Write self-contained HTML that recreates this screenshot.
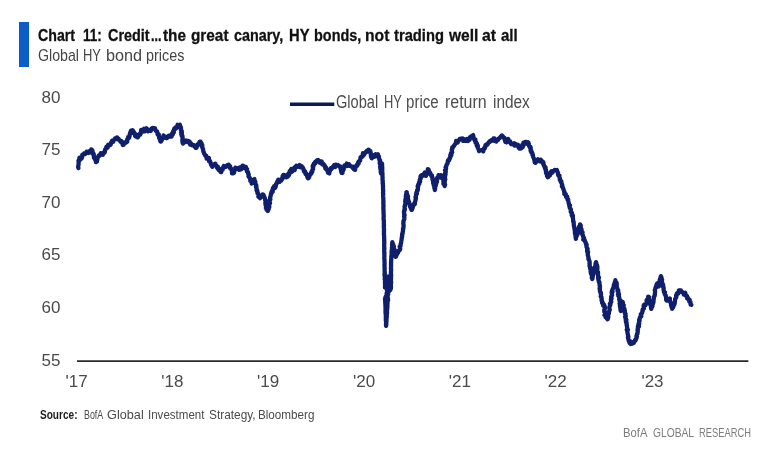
<!DOCTYPE html>
<html><head><meta charset="utf-8">
<style>
html,body{margin:0;padding:0;background:#fff;}
body{width:781px;height:463px;position:relative;overflow:hidden;font-family:"Liberation Sans",sans-serif;}
.t{position:absolute;white-space:nowrap;transform-origin:0 0;line-height:1;}
#bar{position:absolute;left:19.2px;top:21.5px;width:9.5px;height:45px;background:#0b5ec7;}
.yl{font-size:17px;color:#4a4a4a;left:41.5px;}
.xl{font-size:17px;color:#4a4a4a;top:373px;}
#wrap{position:absolute;left:0;top:0;width:781px;height:463px;filter:blur(0.45px);}
</style></head><body>
<div id="wrap">
<div id="bar"></div>
<div class="t" style="left:38.30px;top:26.7px;font-size:17px;color:#111;font-weight:bold;transform:scaleX(0.8339);-webkit-text-stroke:0.3px #111;">Chart</div>
<div class="t" style="left:82.50px;top:26.7px;font-size:17px;color:#111;font-weight:bold;transform:scaleX(0.7956);-webkit-text-stroke:0.3px #111;">11:</div>
<div class="t" style="left:108.40px;top:26.7px;font-size:17px;color:#111;font-weight:bold;transform:scaleX(0.8467);-webkit-text-stroke:0.3px #111;">Credit</div>
<div class="t" style="left:151.20px;top:26.7px;font-size:17px;color:#111;font-weight:bold;transform:scaleX(0.7327);-webkit-text-stroke:0.3px #111;">...</div>
<div class="t" style="left:162.80px;top:26.7px;font-size:17px;color:#111;font-weight:bold;transform:scaleX(0.9020);-webkit-text-stroke:0.3px #111;">the</div>
<div class="t" style="left:190.90px;top:26.7px;font-size:17px;color:#111;font-weight:bold;transform:scaleX(0.9022);-webkit-text-stroke:0.3px #111;">great</div>
<div class="t" style="left:233.60px;top:26.7px;font-size:17px;color:#111;font-weight:bold;transform:scaleX(0.8455);-webkit-text-stroke:0.3px #111;">canary,</div>
<div class="t" style="left:289.30px;top:26.7px;font-size:17px;color:#111;font-weight:bold;transform:scaleX(0.8675);-webkit-text-stroke:0.3px #111;">HY</div>
<div class="t" style="left:314.00px;top:26.7px;font-size:17px;color:#111;font-weight:bold;transform:scaleX(0.8496);-webkit-text-stroke:0.3px #111;">bonds,</div>
<div class="t" style="left:365.40px;top:26.7px;font-size:17px;color:#111;font-weight:bold;transform:scaleX(0.9230);-webkit-text-stroke:0.3px #111;">not</div>
<div class="t" style="left:394.00px;top:26.7px;font-size:17px;color:#111;font-weight:bold;transform:scaleX(0.8659);-webkit-text-stroke:0.3px #111;">trading</div>
<div class="t" style="left:449.08px;top:26.7px;font-size:17px;color:#111;font-weight:bold;transform:scaleX(0.9126);-webkit-text-stroke:0.3px #111;">well</div>
<div class="t" style="left:482.30px;top:26.7px;font-size:17px;color:#111;font-weight:bold;transform:scaleX(0.9253);-webkit-text-stroke:0.3px #111;">at</div>
<div class="t" style="left:500.80px;top:26.7px;font-size:17px;color:#111;font-weight:bold;transform:scaleX(0.8850);-webkit-text-stroke:0.3px #111;">all</div>
<div class="t" style="left:38.30px;top:47.3px;font-size:17px;color:#444;transform:scaleX(0.8345);">Global</div>
<div class="t" style="left:83.10px;top:47.3px;font-size:17px;color:#444;transform:scaleX(0.7617);">HY</div>
<div class="t" style="left:105.50px;top:47.3px;font-size:17px;color:#444;transform:scaleX(0.9544);">bond</div>
<div class="t" style="left:146.10px;top:47.3px;font-size:17px;color:#444;transform:scaleX(0.8460);">prices</div>
<div class="t yl" style="top:89.0px;">80</div>
<div class="t yl" style="top:141.3px;">75</div>
<div class="t yl" style="top:193.7px;">70</div>
<div class="t yl" style="top:246.1px;">65</div>
<div class="t yl" style="top:298.6px;">60</div>
<div class="t yl" style="top:351.9px;">55</div>
<div class="t xl" style="left:65.5px;">'17</div>
<div class="t xl" style="left:161.2px;">'18</div>
<div class="t xl" style="left:257.0px;">'19</div>
<div class="t xl" style="left:353px;">'20</div>
<div class="t xl" style="left:448.7px;">'21</div>
<div class="t xl" style="left:544.5px;">'22</div>
<div class="t xl" style="left:641.4px;">'23</div>
<div class="t" style="left:335.80px;top:93.2px;font-size:18px;color:#4c4c4c;transform:scaleX(0.8112);">Global</div>
<div class="t" style="left:383.80px;top:93.2px;font-size:18px;color:#4c4c4c;transform:scaleX(0.7154);">HY</div>
<div class="t" style="left:406.20px;top:93.2px;font-size:18px;color:#4c4c4c;transform:scaleX(0.8397);">price</div>
<div class="t" style="left:444.70px;top:93.2px;font-size:18px;color:#4c4c4c;transform:scaleX(0.8855);">return</div>
<div class="t" style="left:492.50px;top:93.2px;font-size:18px;color:#4c4c4c;transform:scaleX(0.8554);">index</div>
<div class="t" style="left:39.60px;top:407.7px;font-size:13.5px;color:#1c1c1c;font-weight:bold;transform:scaleX(0.7457);">Source:</div>
<div class="t" style="left:83.80px;top:407.7px;font-size:13.5px;color:#4a4a4a;transform:scaleX(0.6554);">BofA</div>
<div class="t" style="left:106.80px;top:407.7px;font-size:13.5px;color:#4a4a4a;transform:scaleX(0.9407);">Global</div>
<div class="t" style="left:148.30px;top:407.7px;font-size:13.5px;color:#4a4a4a;transform:scaleX(0.8544);">Investment</div>
<div class="t" style="left:209.10px;top:407.7px;font-size:13.5px;color:#4a4a4a;transform:scaleX(0.8783);">Strategy,</div>
<div class="t" style="left:257.60px;top:407.7px;font-size:13.5px;color:#4a4a4a;transform:scaleX(0.8641);">Bloomberg</div>
<div class="t" style="left:623.40px;top:426.1px;font-size:13.5px;color:#7c7c7c;transform:scaleX(0.8329);">BofA</div>
<div class="t" style="left:652.90px;top:426.1px;font-size:13.5px;color:#7c7c7c;transform:scaleX(0.7593);">GLOBAL</div>
<div class="t" style="left:698.90px;top:426.1px;font-size:13.5px;color:#7c7c7c;transform:scaleX(0.6921);">RESEARCH</div>
<svg width="781" height="463" style="position:absolute;left:0;top:0">
<line x1="77" y1="361.2" x2="748.4" y2="361.2" stroke="#2a2a2a" stroke-width="1.7"/>
<line x1="290" y1="104.3" x2="334.3" y2="104.3" stroke="#0b1a52" stroke-width="3.4"/>
<path d="M78.4,168.1 L78.1,166.9 L78.1,166.5 L78.4,165.5 L78.6,163.8 L78.6,163.6 L78.7,161.7 L78.5,160.8 L79.4,160.5 L79.2,159.6 L79.5,157.7 L80.8,158.8 L80.9,158.0 L81.1,158.7 L82.0,157.7 L82.4,154.6 L83.7,154.5 L84.1,153.4 L84.6,153.9 L85.2,154.1 L85.7,153.6 L86.6,151.7 L87.7,152.9 L88.3,153.0 L89.2,151.2 L89.5,151.2 L90.6,151.8 L91.2,149.4 L91.8,149.8 L92.5,150.7 L92.2,152.1 L92.3,153.6 L93.2,153.1 L93.3,153.3 L93.7,153.9 L93.9,156.6 L94.0,157.7 L94.5,158.2 L94.7,158.8 L95.5,160.3 L95.5,160.3 L95.8,160.2 L95.9,162.1 L96.8,161.8 L96.6,161.5 L97.4,159.4 L97.7,157.5 L97.8,157.1 L98.9,156.0 L98.8,155.4 L99.9,155.5 L100.0,155.0 L100.8,153.2 L102.0,154.3 L102.8,154.8 L103.2,152.6 L104.1,152.9 L104.9,151.7 L104.6,152.6 L105.1,149.5 L105.7,148.9 L105.9,149.1 L106.5,146.6 L107.0,146.8 L107.6,147.6 L107.9,145.6 L108.2,144.7 L108.5,144.9 L109.9,145.2 L110.7,144.6 L111.0,142.6 L112.0,141.1 L112.1,140.6 L113.3,141.6 L113.6,140.1 L114.2,140.0 L115.0,138.4 L115.9,138.2 L117.1,137.4 L117.4,138.5 L117.7,139.4 L118.6,138.7 L119.1,139.6 L120.6,141.8 L120.8,141.0 L121.5,141.6 L121.6,141.0 L122.3,142.6 L122.7,145.0 L123.6,144.7 L124.7,142.5 L124.5,143.6 L125.0,143.0 L126.6,142.3 L126.7,141.6 L127.2,141.8 L127.2,139.4 L128.0,138.3 L128.3,138.5 L128.1,137.1 L129.2,137.6 L129.3,136.9 L129.6,136.0 L129.7,134.4 L130.2,132.8 L130.3,132.5 L131.0,130.7 L132.0,130.8 L132.2,132.5 L132.8,130.3 L133.7,132.3 L133.4,133.2 L133.7,131.8 L134.1,132.5 L135.1,134.5 L135.1,135.9 L135.8,136.2 L135.9,136.5 L136.8,134.8 L137.7,137.4 L138.2,136.6 L139.0,135.5 L139.7,133.8 L140.2,133.5 L140.2,134.7 L141.2,132.2 L140.8,132.5 L141.2,129.9 L142.0,130.3 L143.1,131.5 L144.0,128.7 L144.7,131.3 L145.4,129.0 L146.2,129.3 L146.5,128.2 L148.0,131.3 L149.1,130.0 L149.9,129.9 L150.3,130.3 L150.8,130.9 L151.6,128.5 L152.6,127.9 L153.3,128.3 L153.9,128.2 L155.1,128.4 L155.3,129.9 L156.4,131.3 L157.1,131.4 L157.4,132.4 L157.7,133.2 L157.5,134.1 L157.9,134.8 L158.8,134.5 L158.8,135.8 L159.1,138.0 L159.4,137.8 L159.9,139.2 L160.0,139.0 L160.0,140.1 L160.5,141.6 L160.9,141.6 L161.5,140.3 L161.6,140.5 L162.1,138.9 L162.6,137.8 L162.9,136.9 L163.7,136.2 L163.6,135.5 L164.8,136.6 L165.0,137.8 L166.5,136.9 L166.5,138.3 L167.7,137.5 L168.4,136.0 L169.0,135.5 L170.2,135.3 L170.8,136.5 L171.6,136.5 L171.8,134.0 L171.6,134.6 L172.8,134.5 L173.1,131.8 L173.0,131.6 L173.8,132.5 L173.8,130.3 L174.4,128.5 L174.9,129.1 L175.6,127.4 L175.9,128.5 L177.0,127.3 L177.5,124.8 L178.4,126.3 L179.0,125.2 L179.9,124.8 L180.3,127.7 L180.0,126.5 L180.9,127.2 L181.0,129.3 L180.8,129.8 L181.7,130.9 L181.1,132.6 L181.9,132.2 L181.8,133.9 L181.3,133.9 L181.8,135.9 L182.4,135.7 L182.4,137.6 L182.6,137.5 L182.7,138.3 L182.3,139.9 L183.1,141.0 L182.4,141.4 L182.6,142.8 L183.0,143.6 L183.3,141.7 L184.0,140.9 L184.7,141.2 L185.3,142.1 L186.2,140.6 L186.6,141.0 L187.2,140.9 L187.9,141.0 L189.2,143.1 L189.8,141.7 L190.2,144.6 L191.3,143.6 L192.0,145.3 L193.1,144.8 L193.5,145.0 L194.7,146.6 L195.3,146.1 L195.8,147.9 L196.4,147.8 L196.8,146.7 L197.1,144.8 L198.2,144.1 L198.1,143.9 L199.3,142.6 L199.6,144.3 L199.7,141.7 L200.5,141.6 L200.7,142.0 L201.0,142.5 L201.7,143.6 L201.6,146.1 L202.3,145.2 L201.9,146.2 L202.2,146.3 L202.6,148.3 L202.8,148.5 L202.8,148.9 L203.2,149.9 L203.1,150.6 L203.6,152.1 L204.1,153.4 L204.7,154.4 L205.4,155.7 L206.2,156.3 L206.3,155.9 L206.7,158.7 L207.8,158.5 L208.2,158.5 L208.9,158.0 L209.1,161.3 L209.7,161.7 L209.9,160.8 L210.6,162.7 L211.0,164.4 L211.5,164.6 L211.7,165.7 L211.4,165.2 L212.3,166.8 L212.8,164.9 L213.9,164.2 L214.3,165.1 L215.0,164.7 L215.4,163.7 L215.4,164.4 L216.6,166.1 L216.8,165.9 L216.8,167.2 L217.5,168.2 L217.9,166.8 L218.4,169.6 L219.6,170.4 L219.5,170.4 L220.2,171.1 L220.5,171.9 L221.2,172.1 L221.2,170.9 L222.0,168.5 L222.6,169.8 L222.9,168.5 L223.8,166.0 L224.6,166.8 L225.6,167.0 L226.0,166.6 L227.0,165.6 L227.5,165.0 L228.7,164.7 L228.8,166.7 L230.0,167.7 L229.9,165.8 L230.8,168.9 L230.5,168.7 L231.6,168.8 L231.7,169.6 L232.0,170.2 L232.0,173.4 L232.8,172.9 L233.3,173.3 L234.0,172.8 L234.7,169.9 L234.4,170.1 L235.4,167.8 L235.9,168.8 L236.5,168.9 L237.3,168.1 L238.6,168.9 L239.0,169.8 L239.9,167.4 L240.0,169.6 L241.3,169.2 L241.5,168.4 L242.3,165.9 L243.1,165.7 L243.8,168.0 L244.3,166.5 L244.5,166.8 L245.9,166.8 L246.2,168.8 L247.0,169.1 L246.6,169.9 L246.9,171.4 L248.0,171.9 L248.2,174.1 L248.7,174.3 L248.6,176.0 L248.5,176.2 L249.2,177.1 L249.8,178.0 L249.5,177.7 L250.3,179.1 L250.3,181.1 L250.9,180.7 L251.7,181.0 L251.7,183.7 L252.3,183.2 L252.5,182.8 L253.0,181.7 L253.2,179.8 L254.4,179.1 L254.4,179.1 L254.3,180.0 L255.3,181.7 L254.7,181.6 L254.8,181.9 L255.1,183.2 L255.4,183.8 L256.3,185.4 L256.0,186.7 L256.4,186.8 L256.4,187.6 L256.5,187.8 L256.6,190.7 L257.3,190.5 L257.4,191.4 L257.4,193.2 L257.7,192.6 L258.2,193.8 L258.9,196.0 L258.4,196.7 L259.4,195.5 L259.5,197.5 L260.1,198.2 L260.2,196.6 L261.8,195.3 L262.3,196.1 L262.6,194.4 L262.8,196.7 L263.3,194.7 L264.3,196.8 L264.6,197.5 L265.0,199.2 L265.2,199.5 L265.1,200.1 L265.5,200.1 L265.8,201.4 L265.3,203.1 L265.4,202.9 L266.0,204.8 L265.5,204.7 L266.2,206.3 L266.0,206.9 L265.9,208.2 L266.5,208.5 L266.7,209.8 L267.8,210.9 L268.7,208.8 L268.8,208.6 L268.7,206.5 L269.3,207.0 L268.7,204.8 L269.5,204.3 L269.2,203.3 L270.0,202.8 L269.3,201.1 L269.8,200.4 L269.7,200.1 L270.4,199.4 L270.0,198.0 L270.2,198.0 L270.3,196.8 L270.9,194.8 L270.8,194.4 L271.6,193.1 L271.2,192.9 L271.8,191.3 L272.7,191.8 L272.6,189.6 L273.5,189.0 L273.0,188.0 L273.8,188.3 L274.1,186.2 L275.1,187.9 L275.7,186.6 L275.5,186.4 L276.5,183.3 L276.1,184.2 L276.9,183.2 L277.3,181.5 L277.9,181.1 L278.2,179.7 L279.3,179.9 L279.8,181.9 L281.0,180.1 L281.2,180.8 L282.2,178.2 L282.3,178.9 L282.7,175.8 L283.6,176.1 L283.5,174.8 L284.1,175.0 L284.4,176.8 L286.0,175.7 L286.0,177.4 L287.2,177.0 L287.2,174.9 L287.7,176.7 L288.8,175.4 L288.5,173.5 L289.3,174.5 L289.7,171.7 L289.7,171.1 L290.3,170.9 L291.3,168.9 L291.9,171.8 L292.1,171.6 L293.3,169.8 L293.8,168.2 L294.8,170.0 L294.6,167.4 L295.4,166.8 L295.6,167.8 L296.4,165.7 L297.5,166.7 L298.3,166.8 L298.7,166.1 L299.5,165.1 L300.5,165.7 L300.6,167.4 L301.8,166.3 L301.6,167.2 L302.6,167.3 L303.5,169.0 L304.1,171.6 L303.7,170.4 L304.6,171.9 L305.1,171.3 L305.6,174.1 L306.1,173.3 L306.8,175.3 L307.5,176.5 L307.3,177.0 L308.0,178.3 L308.7,178.0 L309.0,177.4 L309.2,177.2 L309.6,175.0 L310.6,173.9 L310.5,174.4 L311.5,173.1 L311.1,172.7 L311.8,171.9 L312.2,171.7 L311.8,171.1 L312.8,169.1 L313.1,169.0 L312.7,166.3 L312.8,165.6 L313.4,166.5 L313.5,165.5 L313.8,163.7 L314.4,164.3 L315.3,161.6 L315.3,163.4 L316.4,161.5 L316.9,160.6 L317.6,160.1 L318.2,160.2 L319.5,161.0 L319.9,162.8 L321.0,162.7 L321.6,161.5 L322.2,164.3 L323.0,163.6 L324.1,164.7 L324.6,166.4 L324.5,165.1 L325.4,166.9 L325.3,168.4 L326.3,167.8 L326.3,169.4 L327.4,169.9 L327.4,170.7 L327.7,171.7 L328.2,172.9 L329.3,173.4 L329.1,171.0 L329.7,171.5 L330.9,168.3 L331.4,169.0 L332.1,168.2 L332.3,167.8 L332.8,167.2 L334.0,165.3 L335.2,167.0 L335.7,164.7 L336.4,165.7 L337.3,165.5 L338.0,164.9 L339.5,166.4 L340.0,166.5 L340.3,166.4 L341.0,169.0 L340.5,168.4 L341.6,171.1 L341.0,170.8 L341.6,172.8 L342.0,172.6 L342.5,172.9 L342.3,171.9 L342.8,171.0 L343.7,169.2 L343.4,169.6 L344.0,167.1 L344.3,167.1 L344.5,165.3 L345.1,165.5 L346.3,166.0 L346.8,163.5 L347.1,165.7 L348.0,165.8 L349.2,164.4 L349.9,165.4 L350.3,166.1 L351.2,166.1 L352.0,166.7 L352.4,167.5 L353.2,166.7 L353.5,168.9 L354.4,169.6 L355.2,169.8 L355.1,168.1 L355.5,167.5 L356.3,165.6 L356.8,164.8 L357.4,165.5 L357.3,164.7 L357.6,164.2 L358.6,163.6 L358.2,162.2 L358.8,161.4 L358.9,161.7 L360.1,160.7 L360.2,159.5 L360.7,157.3 L360.5,157.3 L361.6,156.6 L361.4,157.4 L362.8,156.3 L362.9,153.2 L363.3,154.9 L364.1,154.7 L364.6,153.8 L365.6,152.1 L366.8,151.9 L367.0,150.7 L367.9,151.5 L368.6,149.7 L369.7,151.1 L370.4,151.2 L370.6,153.3 L370.8,153.0 L370.8,153.8 L370.9,155.9 L371.3,157.4 L371.9,157.6 L371.8,158.3 L372.8,156.3 L372.7,157.2 L373.1,156.9 L373.8,155.2 L374.7,156.7 L375.7,154.3 L375.9,154.4 L376.6,155.2 L377.9,154.2 L377.9,155.8 L378.9,156.3 L378.9,157.1 L378.5,157.4 L378.9,157.6 L379.4,159.9 L380.1,160.5 L380.0,161.4 L379.8,161.7 L379.7,163.4 L380.1,163.2 L380.1,164.2 L380.4,165.3 L380.1,166.8 L380.5,167.7 L381.0,167.8 L380.3,168.8 L380.9,169.5 L381.1,171.6 L380.6,171.7 L381.1,171.9 L381.0,173.6 L380.9,172.8 L381.1,172.0 L381.5,171.6 L381.8,169.5 L381.5,168.2 L381.3,167.9 L381.9,166.4 L381.8,165.4 L381.5,166.0 L382.0,163.8 L382.0,163.4 L382.1,164.3 L382.0,165.7 L382.1,165.8 L382.2,166.3 L382.2,168.3 L382.3,168.0 L382.2,170.0 L382.3,170.9 L382.2,171.1 L382.2,172.0 L382.4,173.0 L382.5,174.5 L382.4,175.4 L382.5,176.0 L382.5,177.3 L382.6,177.4 L382.5,179.3 L382.5,180.1 L382.6,180.1 L382.8,181.7 L382.7,182.6 L382.7,183.7 L382.9,183.6 L382.9,185.1 L383.0,186.1 L383.0,186.7 L383.0,187.9 L383.0,188.4 L383.0,189.5 L383.1,189.9 L383.2,190.6 L383.1,192.1 L383.0,192.5 L383.2,193.4 L383.1,194.6 L383.1,195.1 L383.2,196.9 L383.3,197.8 L383.3,197.8 L383.3,199.2 L383.4,200.7 L383.4,200.6 L383.4,202.7 L383.3,202.4 L383.3,203.3 L383.5,205.3 L383.5,205.9 L383.4,206.8 L383.4,207.0 L383.4,208.8 L383.5,209.1 L383.4,209.6 L383.6,210.9 L383.5,211.9 L383.6,213.7 L383.6,214.4 L383.6,214.1 L383.7,215.6 L383.7,216.4 L383.6,217.6 L383.6,219.0 L383.6,219.8 L383.7,219.5 L383.9,221.5 L383.8,221.4 L383.9,223.0 L383.8,223.4 L383.9,224.6 L384.0,225.4 L383.8,226.3 L383.9,227.8 L383.9,227.9 L384.0,228.7 L384.0,230.5 L383.9,231.3 L384.0,231.9 L383.9,233.5 L383.9,234.4 L384.0,234.4 L384.1,236.3 L384.1,236.6 L384.2,237.3 L384.1,238.0 L384.2,239.3 L384.2,240.5 L384.1,240.9 L384.3,241.5 L384.3,243.1 L384.2,243.3 L384.2,245.0 L384.2,245.0 L384.2,247.0 L384.2,246.9 L384.4,248.5 L384.2,248.6 L384.3,249.7 L384.2,250.9 L384.2,251.6 L384.4,253.4 L384.5,253.0 L384.3,253.9 L384.4,256.1 L384.4,256.6 L384.4,256.8 L384.3,257.5 L384.3,258.8 L384.5,259.7 L384.5,261.0 L384.5,261.8 L384.5,262.0 L384.6,263.3 L384.5,264.9 L384.6,265.3 L384.5,266.0 L384.6,267.3 L384.6,268.3 L384.6,269.3 L384.6,269.9 L384.6,270.6 L384.7,271.2 L384.6,271.8 L384.9,273.7 L384.4,274.4 L384.7,275.0 L384.6,276.1 L385.2,277.1 L384.9,277.3 L384.7,279.1 L385.3,279.5 L384.9,279.8 L385.1,280.8 L384.9,282.9 L385.0,282.6 L385.1,284.1 L385.1,284.9 L385.0,286.3 L385.4,286.6 L385.0,287.6 L385.4,286.1 L385.8,285.7 L386.2,284.2 L385.6,283.9 L386.2,282.8 L386.4,281.4 L387.0,281.5 L386.8,280.5 L387.5,279.3 L387.6,280.2 L388.1,277.6 L387.8,277.2 L388.3,276.6 L388.5,276.9 L388.3,278.9 L388.2,279.3 L388.5,279.9 L388.2,281.0 L388.3,282.6 L387.7,283.0 L387.5,284.1 L387.7,285.4 L387.5,286.4 L387.5,286.6 L387.3,287.6 L387.6,288.6 L387.7,288.4 L387.0,289.9 L387.1,290.8 L387.1,291.9 L386.6,293.2 L386.9,294.6 L386.7,293.7 L386.5,296.3 L386.4,295.6 L385.4,297.4 L386.2,297.0 L385.3,299.2 L385.0,298.9 L385.2,300.6 L385.3,301.1 L385.2,302.2 L385.4,303.9 L385.4,303.7 L385.4,305.3 L385.5,306.3 L385.5,307.4 L385.5,307.4 L385.5,308.8 L385.6,309.5 L385.5,310.6 L385.5,311.0 L385.5,312.3 L385.6,313.2 L385.7,314.1 L385.8,315.1 L385.8,315.2 L385.8,316.8 L385.9,318.0 L385.8,318.5 L385.8,320.3 L385.9,320.7 L386.0,320.7 L386.1,322.6 L386.1,322.9 L386.0,324.1 L386.0,325.6 L386.1,325.9 L386.2,325.3 L386.3,323.8 L386.3,323.0 L386.4,322.3 L386.4,320.9 L386.5,320.4 L386.5,320.1 L386.5,319.2 L386.6,317.8 L386.8,316.9 L386.8,316.2 L386.7,314.8 L386.9,313.8 L387.0,313.5 L387.0,311.6 L387.0,312.1 L387.0,309.8 L387.1,308.9 L387.2,309.4 L387.3,308.1 L387.3,307.6 L387.4,306.2 L387.4,305.4 L387.4,304.5 L387.5,303.6 L387.5,302.8 L387.5,301.0 L387.7,300.6 L388.1,300.1 L387.6,299.0 L388.0,298.4 L387.5,297.1 L387.7,295.8 L387.7,294.9 L388.2,294.5 L387.8,292.8 L387.4,291.9 L387.8,291.6 L388.4,292.0 L388.8,291.7 L389.3,287.9 L390.4,289.2 L390.4,289.9 L391.0,287.6 L390.9,286.6 L390.9,286.0 L390.9,284.4 L391.0,283.4 L391.1,282.6 L391.1,281.7 L390.9,280.8 L390.9,280.8 L390.9,279.9 L391.1,278.1 L391.1,278.1 L390.9,277.2 L391.1,276.2 L391.1,275.0 L391.1,273.9 L390.9,273.6 L391.0,271.8 L390.9,272.0 L391.1,270.4 L391.1,269.3 L390.9,268.8 L391.0,267.8 L391.0,267.0 L391.1,265.7 L391.0,265.1 L391.0,264.6 L391.1,263.3 L391.0,262.6 L391.1,262.4 L391.1,260.9 L391.3,259.2 L391.3,259.4 L391.3,257.9 L391.4,258.0 L391.3,256.5 L391.5,255.4 L391.6,254.4 L391.7,253.8 L391.6,253.3 L391.6,251.1 L391.8,250.9 L391.9,250.6 L391.9,248.5 L392.0,248.8 L391.9,247.6 L392.1,247.1 L392.2,246.0 L392.0,244.5 L392.3,244.0 L392.3,242.5 L392.3,242.1 L392.2,243.9 L392.9,244.0 L392.6,244.6 L393.4,245.0 L393.3,247.0 L393.9,246.3 L393.5,248.7 L394.4,249.1 L394.2,250.6 L394.5,250.6 L394.3,250.8 L395.0,251.6 L395.1,252.9 L395.3,253.8 L395.0,254.1 L395.6,256.8 L395.9,256.6 L396.4,254.7 L396.3,255.7 L396.9,254.3 L397.0,253.3 L398.3,251.1 L398.2,252.5 L398.3,250.8 L398.9,250.6 L399.6,250.2 L400.2,249.0 L399.7,246.6 L400.5,246.4 L400.6,245.0 L400.7,243.8 L401.0,243.8 L401.1,242.8 L401.1,242.7 L401.3,241.2 L401.6,239.5 L401.6,238.8 L401.8,238.6 L401.8,237.8 L401.9,236.5 L402.2,236.6 L402.1,234.3 L402.4,233.5 L402.6,233.8 L402.5,232.8 L402.8,231.8 L403.0,230.6 L403.0,228.6 L403.3,229.1 L403.3,228.0 L403.5,227.0 L403.6,225.9 L403.5,224.4 L403.3,223.7 L403.4,223.1 L403.5,221.9 L403.4,221.6 L403.6,220.8 L404.4,218.8 L404.5,218.2 L404.5,218.3 L404.1,216.2 L404.6,215.3 L404.4,215.5 L404.1,214.0 L404.3,213.7 L404.0,212.4 L404.0,210.9 L404.5,210.8 L404.9,209.0 L404.6,208.6 L404.6,207.3 L404.6,206.2 L404.8,206.5 L405.1,204.3 L405.6,203.7 L405.8,202.4 L405.8,201.4 L405.2,201.6 L405.4,200.3 L405.5,199.0 L406.4,198.3 L406.4,198.5 L405.9,196.0 L405.8,196.5 L406.1,195.3 L406.0,194.8 L406.4,193.6 L406.7,192.1 L406.4,192.2 L407.1,194.5 L407.2,194.0 L407.1,196.3 L407.2,196.5 L408.1,196.5 L407.7,198.5 L407.7,198.0 L408.3,199.9 L408.2,200.1 L408.7,201.4 L409.2,202.5 L409.4,203.8 L409.2,203.1 L409.8,205.3 L409.8,206.1 L410.4,207.1 L411.2,208.0 L410.7,207.9 L411.5,209.8 L411.8,209.6 L411.9,209.8 L412.8,207.2 L412.5,206.8 L413.3,206.1 L413.5,204.3 L413.9,204.7 L414.4,203.0 L414.9,204.1 L414.9,202.4 L415.3,201.1 L415.5,200.4 L415.8,198.8 L415.6,199.7 L415.9,197.9 L415.5,197.1 L415.9,197.1 L416.0,194.5 L416.9,193.8 L416.4,192.4 L416.7,192.9 L417.2,190.6 L417.4,190.9 L417.1,190.2 L417.9,189.7 L417.9,188.0 L417.7,186.1 L418.3,186.2 L418.2,184.9 L418.4,184.3 L419.4,183.8 L419.3,182.0 L419.1,182.4 L420.1,181.7 L419.8,179.8 L420.1,180.0 L420.8,178.1 L420.4,178.1 L420.6,176.0 L421.0,175.7 L422.3,175.0 L423.0,175.7 L423.7,175.3 L424.1,173.7 L424.8,172.5 L425.9,175.9 L426.2,174.7 L426.5,173.1 L426.9,173.4 L427.0,172.2 L427.8,171.1 L427.8,169.1 L428.6,169.6 L429.3,171.8 L429.6,172.5 L430.2,172.9 L429.8,173.9 L430.4,174.0 L430.8,174.9 L431.9,175.3 L431.6,176.4 L432.3,176.8 L432.4,177.7 L432.4,179.5 L432.9,179.1 L433.1,179.6 L433.1,182.1 L433.3,181.7 L433.1,183.1 L433.3,183.1 L433.7,184.4 L433.7,185.2 L434.2,185.7 L434.4,188.1 L434.6,188.5 L434.8,188.6 L434.8,190.1 L435.0,189.1 L435.1,188.6 L435.1,187.1 L435.6,186.0 L435.8,185.5 L435.8,183.8 L435.8,184.7 L436.3,183.2 L437.0,181.7 L436.9,180.9 L436.4,179.7 L437.0,180.3 L437.1,177.8 L437.4,177.8 L438.3,176.9 L438.5,175.1 L439.5,175.7 L440.5,177.5 L440.9,175.1 L442.0,176.0 L442.6,176.8 L443.1,178.0 L443.0,179.3 L443.4,180.1 L443.4,181.0 L443.8,182.0 L443.4,183.2 L443.5,184.0 L444.3,184.7 L444.9,185.1 L444.6,186.0 L444.6,185.2 L445.1,184.7 L444.6,183.5 L444.7,182.4 L444.6,181.9 L444.9,180.5 L444.8,179.7 L445.3,179.4 L445.0,178.1 L444.9,176.7 L445.2,175.8 L444.8,175.6 L445.0,175.2 L445.6,174.2 L445.0,173.5 L445.8,171.8 L445.0,170.3 L445.5,170.2 L445.8,169.9 L446.1,168.4 L445.6,167.5 L446.0,166.7 L446.2,166.3 L446.7,164.6 L447.4,163.7 L447.4,163.7 L447.7,162.4 L447.9,160.5 L448.5,160.5 L449.1,160.2 L449.1,160.5 L449.5,158.2 L449.6,158.9 L450.4,156.9 L450.3,155.1 L450.8,155.2 L451.3,155.3 L450.9,153.4 L451.7,153.3 L452.2,152.2 L451.8,151.5 L451.9,149.0 L452.4,148.8 L452.3,147.2 L452.8,147.0 L453.5,146.7 L454.5,145.0 L454.1,145.3 L455.4,143.8 L455.9,142.7 L456.1,140.9 L456.9,141.9 L457.7,142.5 L458.0,141.4 L459.0,140.3 L459.8,139.0 L460.8,139.4 L461.0,138.8 L461.7,139.5 L462.3,138.4 L463.1,140.9 L464.0,139.1 L465.1,140.9 L466.2,140.8 L467.0,140.8 L467.1,138.8 L468.2,140.9 L469.2,139.8 L469.6,139.8 L470.0,137.3 L471.2,136.4 L471.1,137.3 L471.7,136.2 L472.3,135.7 L473.1,135.1 L473.6,137.4 L473.7,137.7 L473.6,137.9 L474.9,140.8 L475.4,139.6 L475.4,140.9 L475.5,142.5 L476.5,142.8 L476.8,143.3 L476.5,143.5 L476.7,145.6 L477.6,145.3 L477.9,146.6 L477.6,146.8 L477.9,147.9 L478.5,149.1 L479.1,151.1 L479.7,150.1 L480.8,150.4 L481.3,150.3 L482.8,149.7 L483.3,151.4 L483.4,150.1 L483.9,148.8 L484.0,148.1 L484.7,148.5 L485.4,146.2 L485.4,145.2 L485.6,146.4 L486.4,144.6 L487.4,143.9 L487.4,144.6 L488.6,142.5 L489.5,142.0 L490.1,140.9 L490.3,141.4 L490.7,140.9 L491.3,140.2 L492.1,140.6 L493.1,140.7 L493.5,138.4 L494.4,138.3 L494.6,139.4 L495.0,141.0 L495.9,140.7 L496.4,141.4 L497.3,140.0 L497.8,139.8 L498.1,139.8 L498.5,138.5 L499.5,138.3 L500.6,136.7 L501.2,136.6 L501.9,135.4 L502.6,136.2 L503.0,136.5 L503.0,137.1 L503.6,137.9 L504.5,138.0 L504.6,139.2 L505.4,141.9 L505.6,141.4 L506.7,142.4 L506.9,139.6 L508.1,139.0 L508.7,140.3 L509.2,141.5 L510.2,141.4 L510.5,143.0 L511.3,144.2 L511.8,144.2 L512.8,144.4 L514.0,143.3 L514.7,145.6 L514.8,143.5 L515.8,144.1 L516.9,145.5 L517.5,145.3 L518.1,144.9 L518.6,147.5 L519.7,148.7 L520.1,148.7 L521.0,148.5 L521.6,147.6 L521.4,146.6 L522.6,147.4 L522.3,144.9 L523.3,146.0 L523.4,142.7 L524.1,143.4 L525.2,141.9 L526.2,142.0 L526.1,143.6 L527.3,143.3 L528.2,142.4 L528.8,143.9 L528.4,143.5 L529.1,146.0 L529.6,146.8 L530.1,147.1 L530.0,147.6 L530.6,147.0 L530.7,148.8 L530.6,150.9 L531.3,150.6 L531.1,152.1 L532.2,152.9 L532.2,152.7 L532.6,155.3 L532.5,155.1 L532.9,154.8 L533.1,156.5 L533.3,157.2 L534.1,159.0 L534.0,158.7 L534.5,160.3 L534.7,162.2 L535.5,161.5 L535.4,162.9 L536.1,161.1 L537.0,161.1 L537.5,161.2 L538.0,159.3 L538.5,159.8 L539.3,160.6 L540.5,161.5 L540.7,159.7 L541.5,161.0 L542.6,161.9 L542.7,161.5 L543.5,162.7 L543.2,164.2 L543.9,164.6 L543.9,165.5 L544.1,165.6 L545.2,168.8 L545.5,167.2 L545.6,169.1 L545.9,171.1 L546.1,170.1 L546.0,171.7 L546.0,172.8 L546.9,174.6 L547.4,174.8 L547.0,175.8 L547.1,175.8 L547.7,177.3 L548.4,175.1 L548.4,176.9 L549.2,174.1 L549.9,175.4 L550.2,172.6 L550.6,173.9 L550.8,172.1 L551.4,171.2 L552.4,172.6 L553.5,170.8 L554.6,170.5 L554.7,169.8 L556.2,170.6 L556.9,170.1 L557.4,171.7 L558.0,172.8 L557.8,172.5 L557.9,172.5 L558.0,174.4 L558.4,175.5 L559.5,175.7 L558.9,175.6 L559.4,177.3 L560.0,178.3 L559.8,179.7 L560.9,180.9 L560.7,181.6 L561.3,181.3 L561.3,182.8 L561.6,183.2 L562.2,184.9 L561.9,186.3 L562.4,185.8 L562.6,187.3 L562.6,187.3 L563.2,188.5 L564.0,190.9 L564.3,191.6 L564.1,191.6 L564.6,193.7 L564.4,194.0 L565.4,194.4 L565.7,194.1 L566.0,196.8 L566.2,196.7 L567.2,196.6 L567.2,197.8 L567.1,197.6 L567.6,199.9 L568.1,199.4 L568.3,200.9 L568.5,201.9 L568.7,202.9 L568.8,203.9 L568.9,203.7 L569.5,206.3 L570.0,205.4 L569.5,206.6 L569.9,208.1 L570.4,208.8 L570.7,209.0 L570.9,209.6 L570.7,211.6 L570.9,212.0 L572.0,212.9 L572.0,214.0 L571.7,215.3 L572.5,216.7 L572.9,215.5 L572.8,217.3 L572.9,218.0 L573.1,219.9 L573.1,220.5 L573.2,221.4 L573.4,221.3 L573.6,221.8 L573.7,223.0 L573.8,224.8 L574.0,226.1 L574.1,226.9 L574.3,227.9 L574.4,227.4 L574.5,228.7 L574.7,230.2 L574.7,230.0 L575.0,232.1 L574.9,232.9 L575.0,233.6 L575.3,234.4 L575.5,234.5 L575.5,236.4 L575.6,236.4 L575.8,238.5 L575.9,238.8 L575.7,237.1 L576.7,236.2 L576.7,235.5 L577.1,234.9 L576.8,234.3 L577.4,234.6 L577.9,233.3 L577.3,233.1 L577.7,230.8 L578.7,230.3 L578.1,230.2 L579.1,227.9 L578.9,228.2 L578.9,226.9 L579.4,226.9 L579.9,226.1 L580.0,224.4 L580.1,224.4 L580.8,225.6 L580.2,227.3 L580.7,227.2 L581.2,228.8 L581.2,229.5 L581.6,229.5 L581.3,231.1 L582.5,232.3 L581.9,232.3 L582.2,234.5 L582.7,234.5 L582.9,235.4 L583.1,236.8 L583.9,237.7 L583.3,239.7 L584.4,239.3 L584.8,241.0 L585.0,241.1 L584.9,241.2 L585.9,243.1 L586.0,244.3 L586.2,243.9 L586.6,244.4 L586.5,246.2 L586.5,246.8 L586.7,247.6 L586.8,247.5 L587.6,248.9 L587.1,250.1 L587.1,250.6 L587.2,251.7 L588.1,251.9 L587.8,253.7 L587.8,254.8 L587.7,254.9 L588.1,256.1 L588.5,257.8 L588.4,259.1 L588.8,259.9 L588.6,259.2 L589.5,261.1 L589.5,261.5 L589.7,262.6 L589.5,263.6 L589.7,263.6 L589.6,266.2 L589.5,265.8 L590.0,266.6 L590.1,268.5 L590.2,268.8 L591.1,270.1 L590.6,271.1 L591.5,272.2 L590.8,272.9 L591.8,274.2 L591.2,274.2 L591.8,274.8 L592.0,277.0 L591.8,278.0 L592.5,277.7 L592.4,279.0 L592.5,278.4 L592.6,277.6 L592.9,275.4 L593.3,274.5 L593.3,274.2 L593.3,273.9 L593.2,272.7 L594.0,272.8 L593.7,272.0 L594.5,270.3 L594.1,268.9 L594.3,267.6 L594.5,268.0 L595.0,267.2 L595.3,265.7 L595.6,264.9 L595.5,264.1 L595.6,263.5 L596.0,262.1 L596.4,263.4 L596.2,264.5 L597.0,265.3 L596.5,265.6 L597.3,266.6 L596.5,266.8 L597.4,268.4 L597.2,269.8 L597.3,271.2 L597.3,271.6 L597.9,272.0 L597.6,272.1 L598.1,273.0 L597.9,274.7 L598.2,276.3 L598.1,275.8 L598.9,277.7 L598.1,277.6 L598.4,279.5 L598.8,280.8 L598.7,281.0 L599.0,282.2 L599.5,282.3 L599.4,282.8 L599.4,283.6 L599.8,285.0 L599.6,285.3 L600.0,286.8 L599.8,288.6 L599.6,288.3 L599.8,289.2 L600.0,290.5 L599.9,290.9 L600.4,292.8 L600.9,292.7 L600.7,293.5 L601.1,294.2 L600.7,296.5 L601.4,297.1 L601.0,297.1 L601.7,298.4 L601.7,298.6 L601.6,300.4 L602.2,301.2 L602.3,301.4 L602.1,302.8 L603.0,303.0 L603.1,305.4 L604.1,304.8 L604.7,306.4 L603.8,306.3 L604.8,307.0 L604.9,307.7 L604.8,308.9 L604.3,309.7 L604.3,311.7 L605.2,312.0 L605.3,313.6 L604.5,315.0 L605.1,315.1 L605.9,315.1 L605.6,317.3 L606.3,317.6 L606.7,318.2 L607.6,319.2 L608.3,317.3 L608.3,317.0 L608.1,315.7 L608.2,314.9 L608.6,314.1 L608.9,313.1 L608.4,312.9 L608.9,311.7 L609.0,311.9 L609.8,309.6 L609.7,310.1 L609.3,307.9 L609.4,307.0 L610.0,305.7 L610.2,305.5 L610.3,304.8 L609.9,303.7 L610.7,303.4 L610.7,302.2 L611.3,301.6 L611.1,301.0 L610.9,299.3 L611.6,298.4 L611.2,297.4 L611.1,296.6 L611.1,296.8 L612.1,295.2 L611.9,293.6 L611.7,293.0 L611.7,291.7 L612.5,292.0 L612.3,290.5 L612.1,290.6 L612.6,289.2 L613.1,288.3 L613.8,286.6 L613.8,285.0 L613.9,286.2 L614.6,284.7 L614.5,283.0 L614.5,283.3 L614.8,282.4 L615.3,281.1 L615.4,280.2 L615.4,281.5 L615.9,282.3 L616.2,282.3 L616.7,283.3 L616.7,284.7 L616.7,285.7 L616.6,286.0 L617.2,288.4 L617.4,288.4 L617.6,289.3 L617.5,290.8 L618.2,290.3 L618.2,291.8 L618.7,293.4 L618.0,294.3 L619.0,294.2 L618.4,295.9 L618.7,295.4 L619.0,296.2 L619.3,298.5 L619.5,298.7 L619.2,299.5 L620.2,300.3 L619.7,301.7 L620.2,302.2 L619.6,303.5 L620.0,304.3 L619.9,304.9 L620.1,305.5 L619.9,306.4 L620.6,307.0 L620.3,307.6 L620.5,309.6 L620.5,309.8 L620.9,311.0 L620.7,310.7 L621.6,309.4 L621.3,307.6 L621.7,307.9 L621.3,306.1 L621.8,305.4 L621.9,305.0 L622.4,303.5 L622.3,303.3 L622.6,301.8 L622.9,302.5 L622.7,304.5 L623.5,305.6 L623.7,305.2 L623.3,306.0 L623.8,307.8 L624.2,308.2 L624.6,310.0 L624.6,310.0 L624.8,310.0 L624.8,311.7 L624.9,313.3 L625.5,313.6 L625.2,314.4 L625.7,315.4 L625.7,316.6 L625.1,317.0 L625.8,318.4 L626.1,319.5 L625.7,319.2 L626.4,320.0 L625.8,321.0 L626.4,323.1 L626.6,322.7 L626.6,324.8 L626.7,325.3 L627.0,325.4 L627.0,327.0 L627.4,328.9 L626.8,329.6 L627.3,329.5 L627.9,329.8 L627.3,331.2 L627.4,332.2 L627.8,334.1 L627.8,334.4 L627.8,334.5 L628.4,336.8 L628.0,337.7 L627.9,337.4 L628.3,339.0 L628.6,339.7 L628.7,340.7 L629.2,341.6 L629.6,343.0 L630.6,344.0 L631.0,341.7 L631.8,343.8 L632.7,343.4 L633.8,342.8 L634.0,342.2 L634.9,340.6 L635.2,339.9 L635.4,340.6 L636.2,338.8 L636.5,338.0 L636.4,336.1 L636.9,336.6 L636.6,336.0 L636.7,335.5 L637.0,334.1 L637.5,333.8 L637.5,332.6 L637.8,331.5 L637.5,329.9 L637.9,329.4 L637.7,329.2 L637.9,328.5 L637.9,326.0 L639.0,326.4 L638.8,324.8 L639.2,323.7 L638.6,323.6 L639.3,321.5 L639.6,320.6 L639.1,320.2 L639.4,319.9 L639.4,319.0 L639.7,318.8 L640.0,317.1 L640.1,317.3 L641.3,316.3 L640.8,314.3 L641.8,313.5 L642.1,313.0 L642.4,311.5 L642.5,310.3 L642.7,310.8 L642.6,309.7 L642.8,309.2 L643.9,308.5 L643.7,307.6 L643.7,305.3 L644.1,304.8 L644.8,305.3 L645.1,305.6 L646.2,303.8 L646.8,302.9 L646.7,302.2 L646.6,300.2 L647.6,299.7 L647.2,300.1 L647.2,299.4 L648.4,297.7 L648.2,296.6 L648.9,297.1 L648.2,298.7 L648.8,298.9 L649.3,299.6 L649.6,300.3 L649.1,301.4 L649.3,302.9 L650.3,303.7 L650.2,304.7 L650.4,304.4 L650.8,305.4 L650.9,306.3 L651.0,307.7 L651.3,308.9 L651.2,308.4 L652.3,306.4 L652.5,305.9 L652.4,306.3 L652.3,303.7 L652.6,304.6 L653.3,302.8 L653.5,301.9 L653.5,300.3 L653.7,299.5 L653.7,299.2 L653.9,297.7 L653.7,296.9 L654.6,296.0 L654.7,295.6 L654.9,293.8 L654.9,293.8 L654.9,293.0 L655.1,291.5 L654.8,290.5 L655.0,289.3 L655.1,289.3 L655.4,288.4 L655.3,288.6 L655.8,286.9 L656.7,286.1 L656.3,285.5 L657.2,283.5 L657.4,283.3 L657.3,285.4 L658.3,285.2 L658.4,286.5 L658.9,286.4 L659.0,286.2 L658.7,285.5 L659.3,284.7 L659.2,282.8 L660.0,281.6 L659.6,281.6 L659.7,280.1 L660.0,278.9 L660.9,278.3 L660.9,278.8 L660.7,276.9 L660.9,276.1 L661.5,277.6 L661.4,278.4 L661.6,278.1 L662.0,280.3 L662.1,279.6 L661.7,281.1 L662.4,283.2 L662.1,283.6 L663.1,284.7 L663.1,285.7 L663.3,286.5 L663.1,286.8 L663.7,288.2 L663.6,288.4 L663.6,290.1 L664.1,291.2 L663.9,292.0 L664.8,292.9 L665.0,292.2 L664.6,293.1 L664.9,294.5 L665.8,295.4 L665.8,296.7 L666.1,296.9 L666.2,298.7 L666.6,299.9 L666.1,299.6 L666.7,300.7 L667.8,300.7 L668.3,299.2 L669.2,300.3 L669.7,298.7 L669.9,298.5 L669.7,299.4 L670.2,301.9 L670.5,302.3 L670.5,302.6 L671.3,303.5 L671.0,304.9 L671.1,304.6 L671.5,306.8 L672.1,307.5 L672.2,307.2 L672.2,308.9 L672.9,306.8 L672.6,306.3 L673.1,307.4 L673.9,304.6 L674.3,304.7 L674.2,303.3 L674.6,303.9 L674.9,301.8 L674.8,301.9 L675.0,300.7 L675.1,299.1 L676.2,297.4 L676.3,297.1 L676.1,295.7 L676.5,294.5 L676.7,295.2 L676.9,293.5 L677.9,292.5 L678.3,293.6 L678.9,290.3 L679.8,290.9 L680.0,290.5 L680.9,290.5 L681.4,291.9 L682.5,292.1 L683.1,292.5 L683.7,294.5 L684.8,293.3 L685.3,292.9 L685.6,295.6 L686.2,295.6 L687.0,296.1 L687.4,298.3 L687.2,298.5 L687.8,297.7 L689.1,300.5 L689.2,299.7 L689.6,299.6 L689.4,301.6 L690.5,302.0 L690.4,303.5 L690.7,304.6 L691.3,304.8" fill="none" stroke="#0f1f6c" stroke-width="4.3" stroke-linejoin="round" stroke-linecap="round"/>
</svg>
</div>
</body></html>
